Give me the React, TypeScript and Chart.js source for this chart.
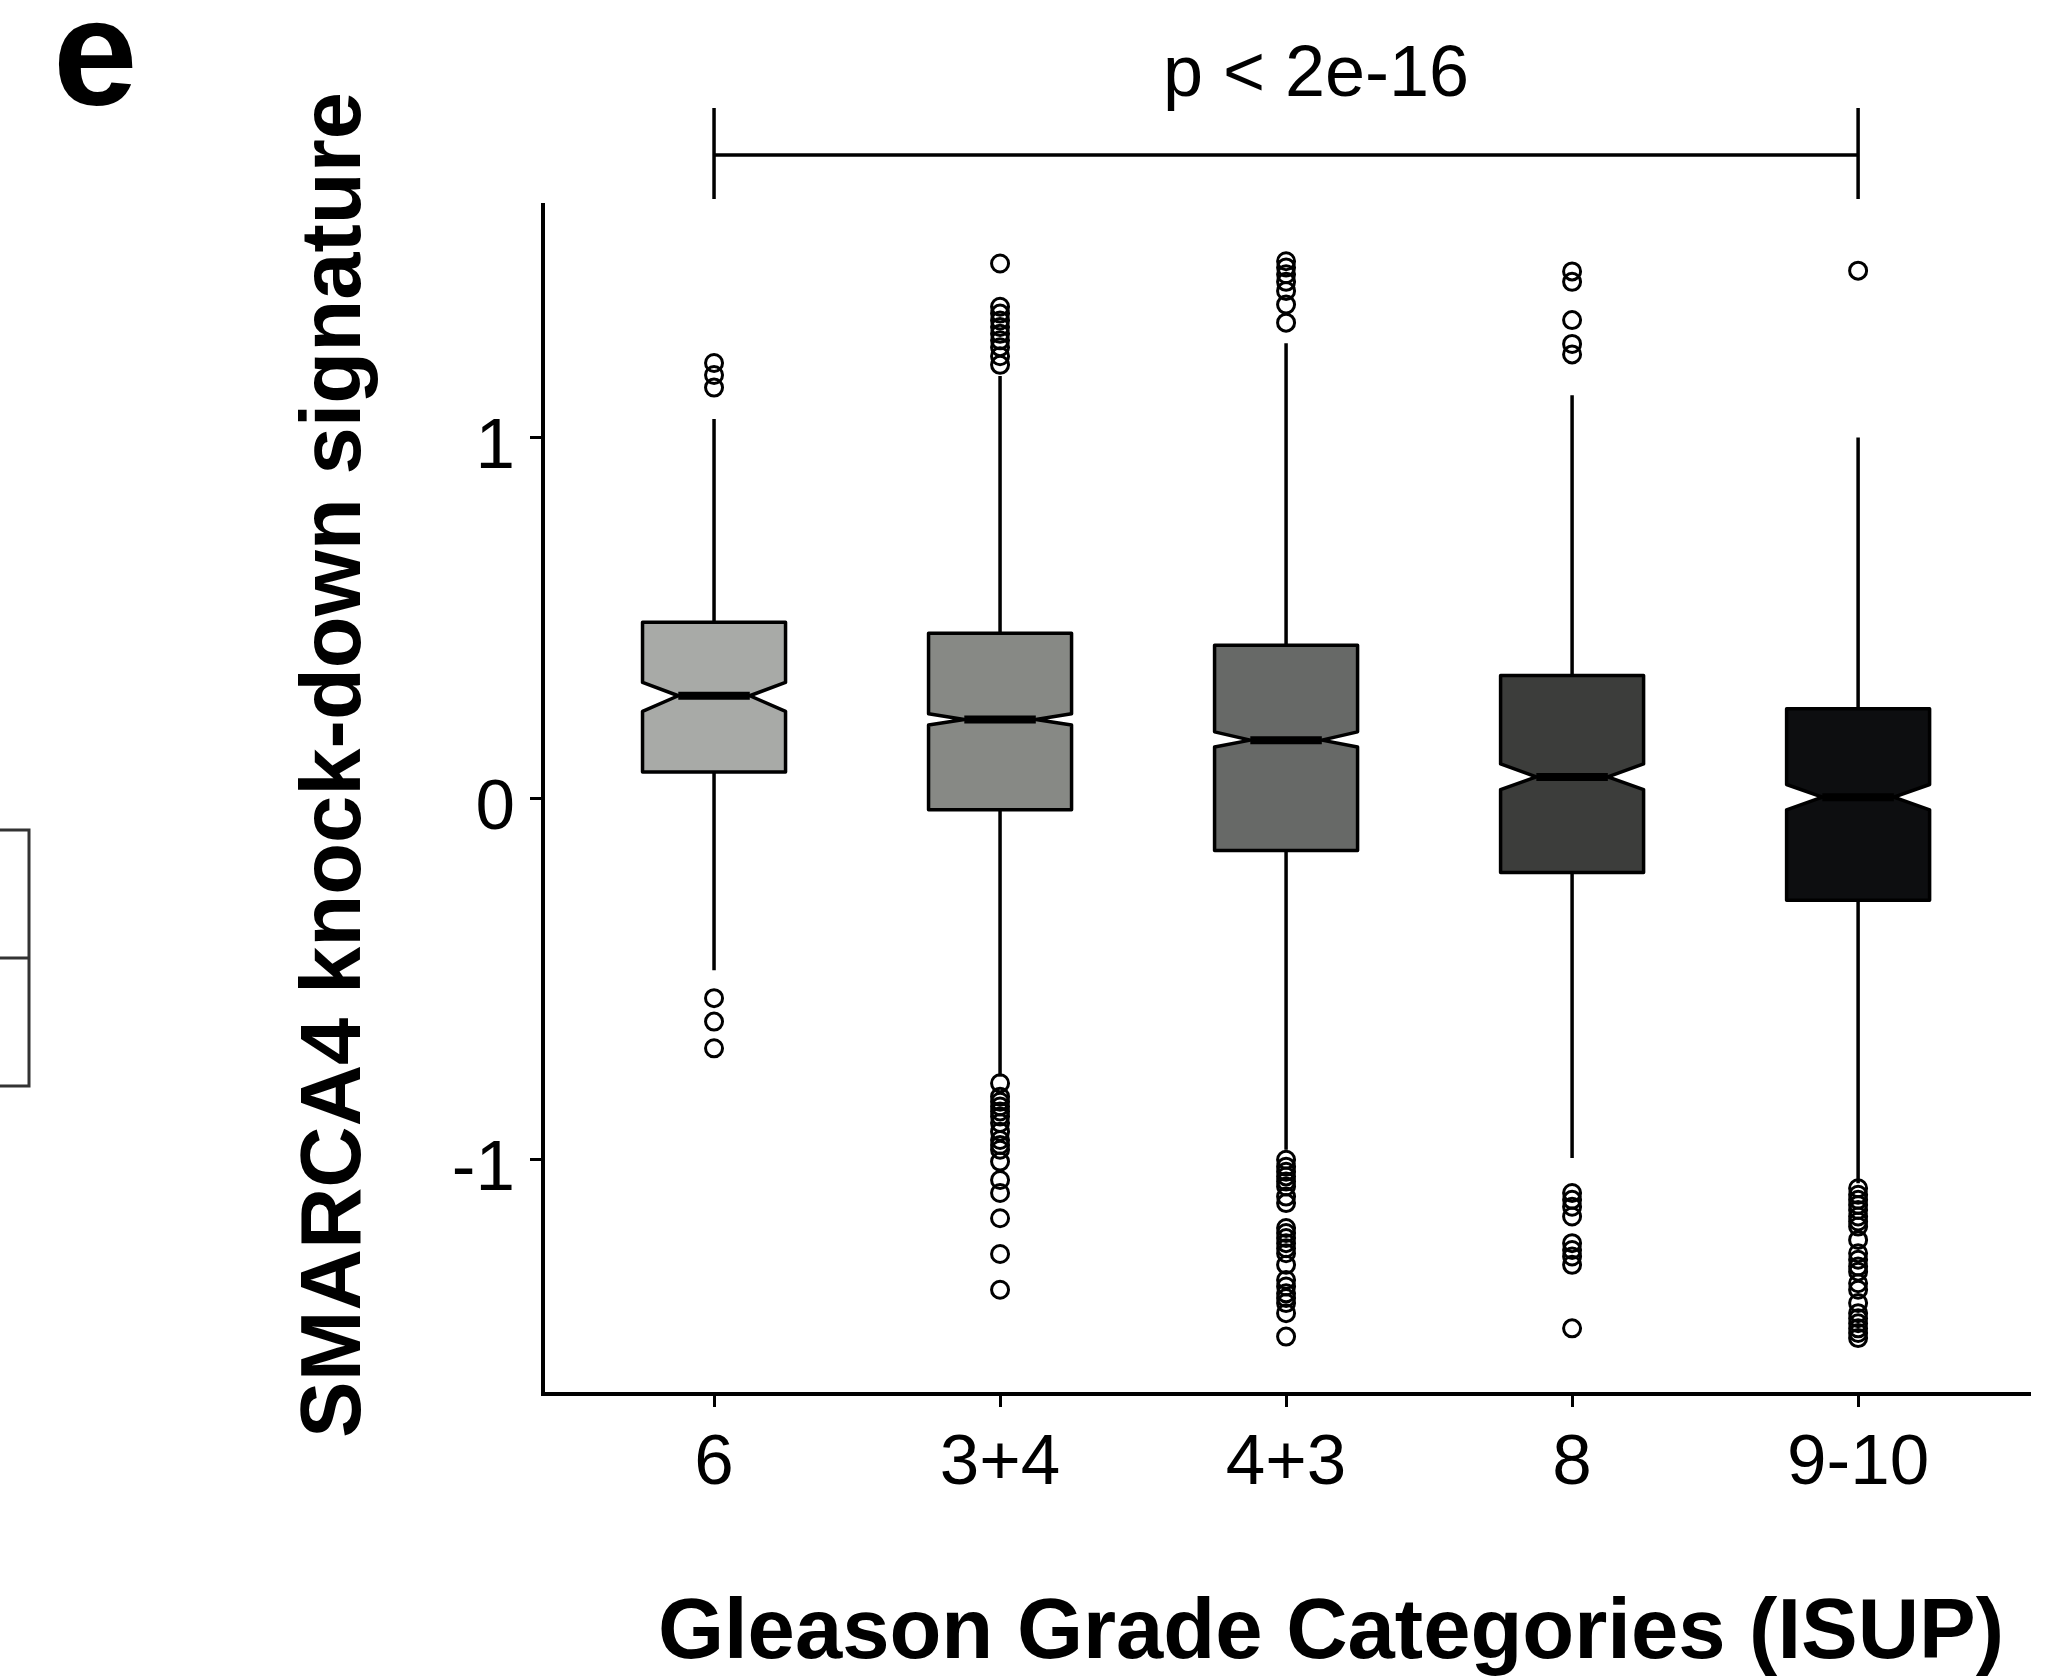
import React, { useEffect, useRef } from 'react';
import { Chart, registerables } from 'chart.js';

Chart.register(...registerables);

// ---- data ----
const categories = ['6', '3+4', '4+3', '8', '9-10'];
const q1 = [0.074, -0.031, -0.144, -0.205, -0.282];
const medians = [0.285, 0.219, 0.162, 0.06, 0.004];
const q3 = [0.489, 0.458, 0.425, 0.341, 0.249];
const notchLow = [0.242, 0.204, 0.143, 0.025, -0.031];
const notchHigh = [0.322, 0.235, 0.185, 0.096, 0.039];
const whiskerLow = [-0.476, -0.77, -0.973, -0.996, -1.066];
const whiskerHigh = [1.052, 1.171, 1.262, 1.118, 1.001];

const outliers6 = [1.207, 1.174, 1.139, -0.553, -0.618, -0.692];
const outliers34 = [
  1.483, 1.363, 1.344, 1.325, 1.307, 1.288, 1.27, 1.251, 1.226, 1.202,
  -0.789, -0.826, -0.84, -0.853, -0.867, -0.881, -0.899, -0.923, -0.946, -0.96,
  -0.973, -1.006, -1.057, -1.093, -1.163, -1.262, -1.361,
];
const outliers43 = [
  1.489, 1.472, 1.453, 1.432, 1.407, 1.369, 1.319,
  -1.001, -1.02, -1.034, -1.047, -1.061, -1.075, -1.103, -1.121, -1.19, -1.204,
  -1.218, -1.232, -1.246, -1.26, -1.292, -1.334, -1.352, -1.371, -1.384, -1.398,
  -1.426, -1.491,
];
const outliers8 = [
  1.461, 1.432, 1.326, 1.26, 1.231,
  -1.093, -1.112, -1.131, -1.158, -1.232, -1.251, -1.269, -1.292, -1.468,
];
const outliers910 = [
  1.463,
  -1.08, -1.098, -1.112, -1.126, -1.14, -1.158, -1.172, -1.186, -1.223, -1.26,
  -1.278, -1.297, -1.311, -1.343, -1.361, -1.398, -1.426, -1.44, -1.454, -1.468,
  -1.481, -1.495,
];
const outlierGroups = [outliers6, outliers34, outliers43, outliers8, outliers910];

const boxColors = ['#a8aaa7', '#878985', '#676967', '#3c3d3b', '#0d0e10'];

const yTicks = [-1, 0, 1];
const yTickLabels = ['-1', '0', '1'];

const panelLetter = 'e';
const pValueLabel = 'p < 2e-16';
const xTitle = 'Gleason Grade Categories (ISUP)';
const yTitle = 'SMARCA4 knock-down signature';

const FONT = "'Liberation Sans', Arial, Helvetica, sans-serif";

const boxPlugin = {
  id: 'notchedBoxes',
  beforeDatasetsDraw(chart: any) {
    const { ctx } = chart;
    const xs = chart.scales.x;
    const ys = chart.scales.y;
    ctx.save();
    for (let i = 0; i < categories.length; i++) {
      const pos = i + 1;
      const cx = xs.getPixelForValue(pos);
      const left = xs.getPixelForValue(pos - 0.25);
      const right = xs.getPixelForValue(pos + 0.25);
      const indent = (right - left) / 4;
      const yQ1 = ys.getPixelForValue(q1[i]);
      const yQ3 = ys.getPixelForValue(q3[i]);
      const yMed = ys.getPixelForValue(medians[i]);
      const yNl = ys.getPixelForValue(notchLow[i]);
      const yNh = ys.getPixelForValue(notchHigh[i]);
      const yWl = ys.getPixelForValue(whiskerLow[i]);
      const yWh = ys.getPixelForValue(whiskerHigh[i]);

      // whiskers
      ctx.strokeStyle = '#000';
      ctx.lineWidth = 3.5;
      ctx.lineCap = 'butt';
      ctx.beginPath();
      ctx.moveTo(cx, yQ3);
      ctx.lineTo(cx, yWh);
      ctx.moveTo(cx, yQ1);
      ctx.lineTo(cx, yWl);
      ctx.stroke();

      // notched box
      ctx.beginPath();
      ctx.moveTo(left, yQ3);
      ctx.lineTo(right, yQ3);
      ctx.lineTo(right, yNh);
      ctx.lineTo(right - indent, yMed);
      ctx.lineTo(right, yNl);
      ctx.lineTo(right, yQ1);
      ctx.lineTo(left, yQ1);
      ctx.lineTo(left, yNl);
      ctx.lineTo(left + indent, yMed);
      ctx.lineTo(left, yNh);
      ctx.closePath();
      ctx.fillStyle = boxColors[i];
      ctx.fill();
      ctx.lineJoin = 'round';
      ctx.lineWidth = 3.5;
      ctx.strokeStyle = '#000';
      ctx.stroke();

      // median
      ctx.beginPath();
      ctx.lineWidth = 8;
      ctx.moveTo(left + indent, yMed);
      ctx.lineTo(right - indent, yMed);
      ctx.stroke();
    }
    ctx.restore();
  },
};

const decorPlugin = {
  id: 'decor',
  afterDraw(chart: any) {
    const { ctx } = chart;
    const xs = chart.scales.x;
    ctx.save();
    ctx.fillStyle = '#000';
    ctx.strokeStyle = '#000';

    // panel letter
    ctx.font = `bold 152px ${FONT}`;
    ctx.textAlign = 'left';
    ctx.textBaseline = 'alphabetic';
    ctx.fillText(panelLetter, 53, 105);

    // significance bracket between first and last category
    const xa = xs.getPixelForValue(1);
    const xb = xs.getPixelForValue(categories.length);
    ctx.lineWidth = 3.5;
    ctx.beginPath();
    ctx.moveTo(xa, 155);
    ctx.lineTo(xb, 155);
    ctx.moveTo(xa, 108);
    ctx.lineTo(xa, 199);
    ctx.moveTo(xb, 108);
    ctx.lineTo(xb, 199);
    ctx.stroke();

    ctx.font = `72px ${FONT}`;
    ctx.textAlign = 'center';
    ctx.fillText(pValueLabel, 1316, 96);

    // axis titles
    ctx.font = `bold 85px ${FONT}`;
    ctx.textAlign = 'center';
    ctx.fillText(xTitle, 1331, 1658);

    ctx.save();
    ctx.translate(360, 765);
    ctx.rotate(-Math.PI / 2);
    ctx.fillText(yTitle, 0, 0);
    ctx.restore();

    // fragment of neighbouring panel at the left edge
    ctx.strokeStyle = '#333';
    ctx.lineWidth = 3;
    ctx.beginPath();
    ctx.moveTo(-5, 830);
    ctx.lineTo(29, 830);
    ctx.lineTo(29, 1086);
    ctx.lineTo(-5, 1086);
    ctx.moveTo(-5, 958);
    ctx.lineTo(29, 958);
    ctx.stroke();

    ctx.restore();
  },
};

export default function App() {
  const ref = useRef<HTMLCanvasElement | null>(null);

  useEffect(() => {
    document.body.style.margin = '0';
    const canvas = ref.current;
    if (!canvas) return;

    const outlierData: { x: number; y: number }[] = [];
    outlierGroups.forEach((g, i) => g.forEach((v) => outlierData.push({ x: i + 1, y: v })));

    const chart = new Chart(canvas, {
      type: 'scatter',
      data: {
        datasets: [
          {
            label: 'outliers',
            data: outlierData,
            pointRadius: 8.5,
            pointHoverRadius: 8.5,
            pointBorderWidth: 3,
            pointBorderColor: '#000',
            pointBackgroundColor: 'rgba(0,0,0,0)',
          },
        ],
      },
      options: {
        animation: false,
        responsive: false,
        devicePixelRatio: 1,
        events: [],
        layout: { padding: { top: 205, right: 20, left: 0, bottom: 0 } },
        plugins: {
          legend: { display: false },
          tooltip: { enabled: false },
          title: { display: false },
        },
        scales: {
          x: {
            type: 'linear',
            min: 0.402,
            max: 5.601,
            afterFit: (s: any) => {
              s.height = 286;
            },
            afterBuildTicks: (s: any) => {
              s.ticks = categories.map((_, i) => ({ value: i + 1 }));
            },
            border: { display: true, color: '#000', width: 4 },
            grid: {
              display: true,
              drawOnChartArea: false,
              drawTicks: true,
              tickLength: 13,
              tickWidth: 3,
              tickColor: '#000',
            },
            ticks: {
              color: '#000',
              font: { family: FONT, size: 71 },
              padding: 15,
              maxRotation: 0,
              autoSkip: false,
              callback: (v: any) => categories[Math.round(Number(v)) - 1] ?? '',
            },
          },
          y: {
            type: 'linear',
            min: -1.65,
            max: 1.645,
            afterFit: (s: any) => {
              s.width = 543;
            },
            afterBuildTicks: (s: any) => {
              s.ticks = yTicks.map((v) => ({ value: v }));
            },
            border: { display: true, color: '#000', width: 4 },
            grid: {
              display: true,
              drawOnChartArea: false,
              drawTicks: true,
              tickLength: 13,
              tickWidth: 3,
              tickColor: '#000',
            },
            ticks: {
              color: '#000',
              font: { family: FONT, size: 71 },
              padding: 15,
              labelOffset: 11,
              callback: (v: any) => {
                const idx = yTicks.indexOf(Number(v));
                return idx >= 0 ? yTickLabels[idx] : '';
              },
            },
          },
        },
      },
      plugins: [boxPlugin, decorPlugin],
    });

    return () => {
      chart.destroy();
    };
  }, []);

  return (
    <div style={{ position: 'absolute', left: 0, top: 0, width: 2050, height: 1680, background: '#fff' }}>
      <canvas ref={ref} width={2050} height={1680} style={{ width: 2050, height: 1680, display: 'block' }} />
    </div>
  );
}
